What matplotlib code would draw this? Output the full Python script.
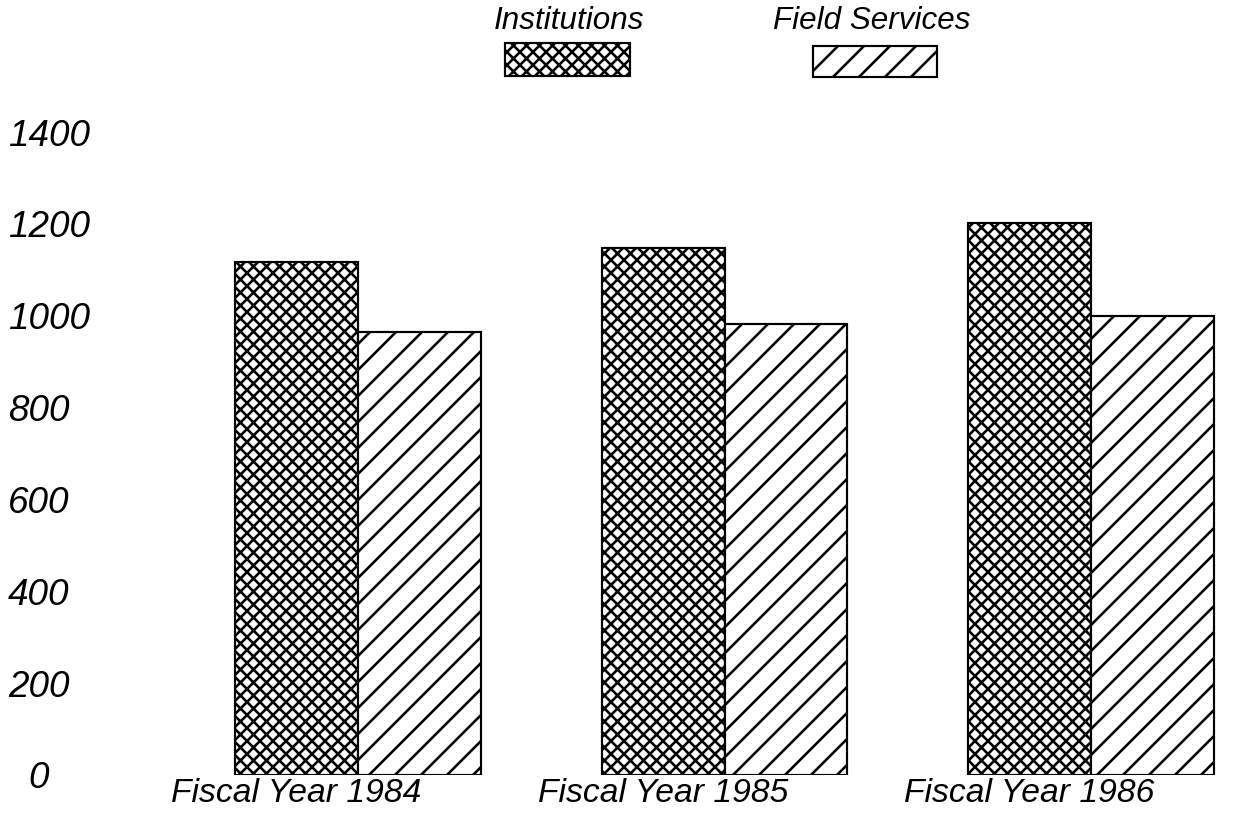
import numpy as np
import matplotlib
matplotlib.use("Agg")
from matplotlib import pyplot as plt
from matplotlib.patches import Rectangle
from matplotlib.transforms import ScaledTranslation

# data
years = ["Fiscal Year 1984", "Fiscal Year 1985", "Fiscal Year 1986"]
institutions = [1117, 1147, 1202]
field_services = [964, 982, 999]
yticks = [0, 200, 400, 600, 800, 1000, 1200, 1400]

DPI = 156
W, H = 1247, 814

plt.rcParams['font.family'] = ['Liberation Sans', 'DejaVu Sans']
plt.rcParams['font.style'] = 'italic'
plt.rcParams['hatch.linewidth'] = 1.2
plt.rcParams['hatch.color'] = 'black'

fig = plt.figure(figsize=(W / DPI, H / DPI), dpi=DPI)
ax = fig.add_axes([150 / W, 39 / H, 1090 / W, 643 / H])

x = np.arange(len(years))
w = 0.335
ax.bar(x - w / 2, institutions, w, facecolor='white', edgecolor='black',
       linewidth=1.0, hatch='xxxx')
ax.bar(x + w / 2, field_services, w, facecolor='white', edgecolor='black',
       linewidth=1.0, hatch='//')

ax.set_ylim(0, 1400)
ax.set_xlim(-0.5675, 2.4065)
for s in ax.spines.values():
    s.set_visible(False)

ax.set_yticks(yticks)
ax.set_yticklabels([str(v) for v in yticks], fontsize=17)
for lbl in ax.get_yticklabels():
    lbl.set_horizontalalignment('left')
ax.tick_params(axis='y', length=0, pad=142 * 72 / DPI)
# the zero sits a bit further right in the original
zero = ax.get_yticklabels()[0]
zero.set_transform(zero.get_transform() + ScaledTranslation(20 / DPI, 0, fig.dpi_scale_trans))

ax.set_xticks(x - w / 2)
ax.set_xticklabels(years, fontsize=15.5)
ax.tick_params(axis='x', length=0, pad=1.5)

# legend: label above a hatched swatch
fig.text(569 / W, 1 - 21 / H, "Institutions", ha='center', va='center', fontsize=14.5)
fig.text(872 / W, 1 - 21 / H, "Field Services", ha='center', va='center', fontsize=14.5)
fig.add_artist(Rectangle((505 / W, 1 - 76 / H), 125 / W, 33 / H, transform=fig.transFigure,
                         facecolor='white', edgecolor='black', linewidth=1.0, hatch='xxxx'))
fig.add_artist(Rectangle((813 / W, 1 - 77 / H), 124 / W, 31 / H, transform=fig.transFigure,
                         facecolor='white', edgecolor='black', linewidth=1.0, hatch='//'))

fig.savefig("out.png", dpi=DPI)
